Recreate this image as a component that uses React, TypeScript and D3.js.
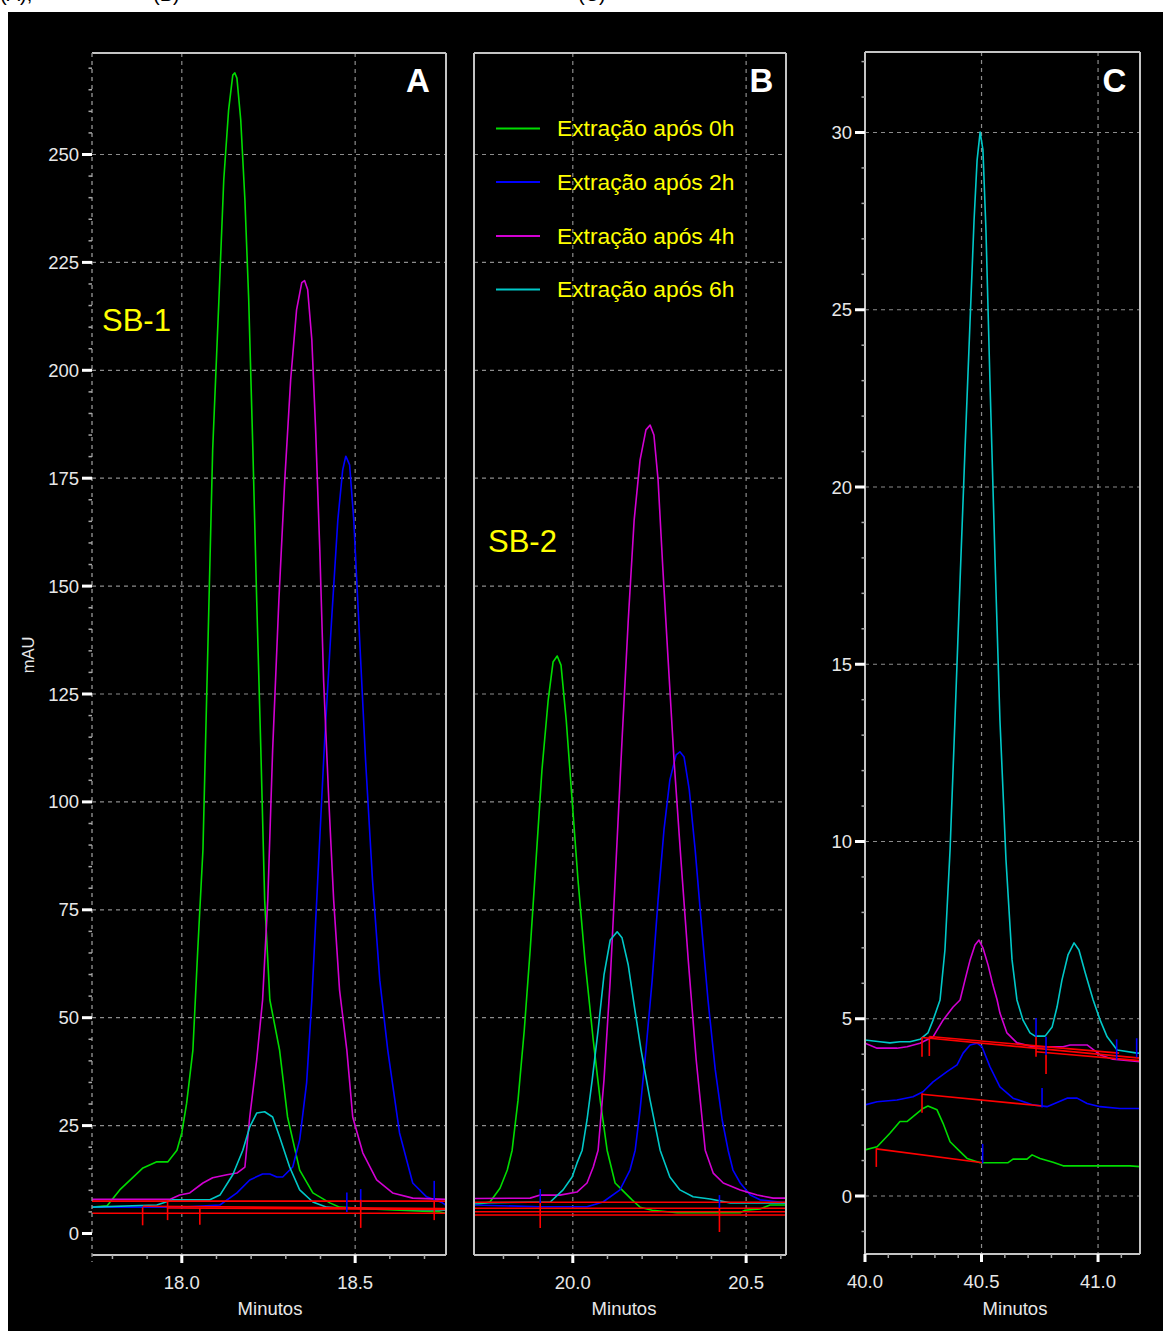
import React from "react";
import * as d3 from "d3";

type Pt = [number, number];
type Seg = [number, number, number, number];
type Mark = [number, number, number];

// ---------- series styling ----------
const seriesNames = ["Extração após 0h", "Extração após 2h", "Extração após 4h", "Extração após 6h"];
const seriesColors = ["#00dc00", "#0000ff", "#d200d2", "#00c8c8"];
const baselineColor = "#ff0000";

// ---------- axis ticks ----------
const yTicksAB = [0, 25, 50, 75, 100, 125, 150, 175, 200, 225, 250];
const yGridAB = [25, 50, 75, 100, 125, 150, 175, 200, 225, 250];
const yTicksC = [0, 5, 10, 15, 20, 25, 30];
const xTicksA = [18.0, 18.5];
const xTicksB = [20.0, 20.5];
const xTicksC = [40.0, 40.5, 41.0];

// ---------- panel A : SB-1 (min, mAU) ----------
const sb1_0h: Pt[] = [
  [17.741, 6.1], [17.784, 6.4], [17.821, 10.1], [17.888, 15.2], [17.928, 16.6], [17.96, 16.6],
  [17.986, 19.3], [18.0, 23.3], [18.014, 30.2], [18.032, 42.5], [18.046, 65.7], [18.061, 88.9],
  [18.075, 135.2], [18.089, 181.5], [18.107, 216.3], [18.121, 244.1], [18.135, 260.3], [18.147, 268.4],
  [18.153, 268.9], [18.159, 267.7], [18.17, 258.0], [18.182, 239.5], [18.193, 216.3], [18.205, 181.5],
  [18.216, 146.8], [18.228, 112.0], [18.239, 77.3], [18.254, 54.1], [18.282, 42.5], [18.305, 27.0],
  [18.34, 14.7], [18.378, 9.4], [18.427, 7.1], [18.455, 6.1], [18.542, 5.7], [18.628, 5.4],
  [18.744, 5.0], [18.761, 4.7],
];
const sb1_2h: Pt[] = [
  [17.741, 6.1], [18.003, 6.1], [18.11, 6.6], [18.159, 9.4], [18.196, 12.4], [18.233, 13.8],
  [18.254, 13.8], [18.274, 13.1], [18.291, 13.1], [18.32, 15.4], [18.34, 21.7], [18.36, 34.9],
  [18.375, 54.1], [18.392, 81.9], [18.412, 114.3], [18.432, 142.1], [18.45, 165.3], [18.464, 176.9],
  [18.473, 180.1], [18.484, 178.1], [18.496, 165.3], [18.513, 137.5], [18.53, 109.7], [18.55, 81.9],
  [18.571, 58.7], [18.594, 42.5], [18.628, 23.3], [18.666, 11.7], [18.706, 8.5], [18.752, 7.1],
  [18.761, 6.6],
];
const sb1_4h: Pt[] = [
  [17.741, 7.9], [17.965, 7.9], [17.994, 8.9], [18.023, 9.4], [18.061, 11.7], [18.089, 12.9],
  [18.13, 13.6], [18.159, 14.0], [18.182, 15.4], [18.196, 27.0], [18.216, 40.2], [18.233, 54.1],
  [18.248, 77.3], [18.262, 112.0], [18.28, 146.8], [18.297, 174.6], [18.314, 197.8], [18.331, 214.0],
  [18.346, 220.3], [18.354, 220.8], [18.363, 218.7], [18.375, 207.1], [18.386, 186.2], [18.398, 158.4],
  [18.409, 128.2], [18.424, 100.4], [18.438, 77.3], [18.455, 56.4], [18.476, 42.5], [18.493, 27.0],
  [18.522, 18.7], [18.562, 12.4], [18.608, 9.4], [18.666, 8.2], [18.761, 7.9],
];
const sb1_6h: Pt[] = [
  [17.741, 6.1], [17.928, 6.6], [17.974, 7.8], [18.081, 7.8], [18.11, 8.9], [18.147, 13.6],
  [18.176, 19.3], [18.196, 24.7], [18.216, 27.9], [18.239, 28.2], [18.262, 27.0], [18.282, 22.4],
  [18.311, 15.4], [18.34, 10.1], [18.378, 7.3], [18.418, 6.1], [18.455, 5.9], [18.761, 5.4],
];
const sb1Baselines: Seg[] = [
  [17.741, 7.5, 18.761, 7.5], [17.888, 6.3, 18.761, 5.8], [17.957, 5.9, 18.761, 5.6], [17.741, 4.7, 18.761, 4.7],
];
const sb1RedMarks: Mark[] = [
  [17.887, 6.1, 1.9], [17.959, 7.7, 3.1], [18.052, 5.9, 2.0], [18.516, 7.8, 1.3], [18.728, 7.7, 3.1],
];
const sb1BlueMarks: Mark[] = [[18.476, 9.5, 5.0], [18.516, 10.3, 6.2], [18.728, 12.2, 7.7]];

// ---------- panel B : SB-2 ----------
const sb2_0h: Pt[] = [
  [19.715, 6.6], [19.761, 7.3], [19.79, 10.5], [19.811, 14.7], [19.825, 19.3], [19.842, 30.9],
  [19.86, 47.1], [19.877, 65.7], [19.894, 86.5], [19.911, 107.4], [19.929, 123.6], [19.943, 132.4],
  [19.955, 133.8], [19.966, 131.7], [19.981, 119.0], [19.998, 100.4], [20.015, 81.9], [20.035, 63.4],
  [20.059, 44.8], [20.079, 30.9], [20.099, 19.3], [20.122, 11.7], [20.142, 10.1], [20.171, 7.8],
  [20.194, 6.1], [20.229, 5.4], [20.301, 4.8], [20.483, 4.8], [20.497, 5.4], [20.54, 5.7],
  [20.569, 6.6], [20.615, 6.6],
];
const sb2_2h: Pt[] = [
  [19.715, 6.6], [19.906, 6.2], [20.041, 6.2], [20.087, 7.3], [20.136, 10.1], [20.165, 14.7],
  [20.18, 19.3], [20.194, 28.6], [20.211, 42.5], [20.229, 58.7], [20.246, 77.3], [20.263, 93.5],
  [20.28, 105.1], [20.298, 110.9], [20.309, 111.6], [20.321, 110.4], [20.336, 102.8], [20.353, 88.9],
  [20.37, 72.6], [20.39, 54.1], [20.411, 37.9], [20.431, 26.3], [20.448, 19.3], [20.462, 14.7],
  [20.483, 11.7], [20.512, 8.9], [20.54, 7.8], [20.615, 7.1],
];
const sb2_4h: Pt[] = [
  [19.715, 8.1], [19.877, 8.2], [19.906, 8.9], [19.963, 8.9], [20.012, 9.6], [20.041, 11.7],
  [20.059, 15.4], [20.073, 19.3], [20.09, 35.6], [20.108, 58.7], [20.125, 86.5], [20.142, 114.3],
  [20.16, 142.1], [20.177, 165.3], [20.194, 179.2], [20.211, 186.2], [20.223, 187.3], [20.234, 185.0],
  [20.246, 174.6], [20.26, 153.7], [20.275, 132.9], [20.292, 109.7], [20.312, 86.5], [20.333, 63.4],
  [20.356, 40.2], [20.382, 19.3], [20.405, 14.0], [20.434, 11.7], [20.483, 10.1], [20.532, 8.9],
  [20.578, 8.2], [20.615, 8.2],
];
const sb2_6h: Pt[] = [
  [19.715, 7.1], [19.935, 7.3], [19.972, 10.1], [19.998, 13.1], [20.012, 16.3], [20.027, 19.3],
  [20.041, 26.3], [20.056, 35.6], [20.073, 47.1], [20.09, 59.9], [20.108, 68.0], [20.128, 69.9],
  [20.142, 68.5], [20.16, 62.2], [20.177, 52.9], [20.197, 42.5], [20.223, 30.9], [20.252, 19.3],
  [20.28, 13.1], [20.309, 10.1], [20.347, 8.5], [20.396, 8.0], [20.454, 7.1], [20.615, 7.1],
];
const sb2Baselines: Seg[] = [
  [19.715, 7.23, 20.615, 7.23], [19.715, 5.84, 20.615, 5.84], [19.715, 5.05, 20.615, 5.05], [19.715, 4.29, 20.615, 4.29],
];
const sb2RedMarks: Mark[] = [[19.906, 7.07, 1.27], [20.423, 5.9, 0.35]];
const sb2BlueMarks: Mark[] = [[19.906, 10.3, 7.07], [20.423, 8.9, 5.9]];

// ---------- panel C : late eluting peaks ----------
const pc_0h: Pt[] = [
  [40.0, 1.3], [40.052, 1.39], [40.107, 1.77], [40.15, 2.1], [40.18, 2.1], [40.206, 2.24],
  [40.249, 2.47], [40.27, 2.54], [40.309, 2.43], [40.335, 2.05], [40.365, 1.53], [40.408, 1.25],
  [40.438, 1.06], [40.494, 0.94], [40.614, 0.94], [40.635, 1.04], [40.695, 1.04], [40.717, 1.16],
  [40.751, 1.06], [40.807, 0.95], [40.85, 0.85], [41.137, 0.85], [41.18, 0.83],
];
const pc_2h: Pt[] = [
  [40.0, 2.57], [40.052, 2.66], [40.137, 2.71], [40.206, 2.8], [40.249, 2.94], [40.292, 3.22],
  [40.352, 3.51], [40.395, 3.7], [40.421, 4.03], [40.451, 4.26], [40.481, 4.31], [40.502, 4.21],
  [40.536, 3.65], [40.579, 3.08], [40.635, 2.76], [40.721, 2.57], [40.781, 2.52], [40.867, 2.76],
  [40.91, 2.76], [40.953, 2.61], [41.009, 2.52], [41.094, 2.47], [41.18, 2.47],
];
const pc_4h: Pt[] = [
  [40.0, 4.31], [40.052, 4.17], [40.137, 4.17], [40.18, 4.21], [40.236, 4.31], [40.292, 4.49],
  [40.335, 4.96], [40.378, 5.33], [40.408, 5.53], [40.429, 6.09], [40.451, 6.66], [40.472, 7.08],
  [40.489, 7.22], [40.506, 7.0], [40.528, 6.52], [40.549, 5.95], [40.567, 5.53], [40.579, 5.16],
  [40.609, 4.6], [40.652, 4.32], [40.721, 4.21], [40.85, 4.21], [40.88, 4.26], [40.953, 4.26],
  [41.009, 3.98], [41.064, 3.86], [41.18, 3.79],
];
const pc_6h: Pt[] = [
  [40.0, 4.4], [40.064, 4.35], [40.107, 4.32], [40.15, 4.35], [40.193, 4.35], [40.236, 4.42],
  [40.27, 4.6], [40.292, 4.96], [40.322, 5.53], [40.343, 6.94], [40.365, 9.76], [40.386, 13.43],
  [40.408, 17.38], [40.429, 21.04], [40.451, 24.71], [40.468, 27.53], [40.481, 29.22], [40.494, 30.01],
  [40.506, 29.51], [40.519, 27.25], [40.536, 23.02], [40.558, 17.94], [40.579, 13.43], [40.605, 9.48],
  [40.631, 6.66], [40.652, 5.53], [40.678, 4.96], [40.708, 4.6], [40.73, 4.51], [40.773, 4.51],
  [40.803, 4.77], [40.824, 5.33], [40.845, 6.09], [40.871, 6.8], [40.897, 7.14], [40.918, 6.94],
  [40.944, 6.32], [40.979, 5.53], [41.009, 4.96], [41.039, 4.49], [41.082, 4.12], [41.168, 4.03],
  [41.18, 4.03],
];
const pcBaselines: Seg[] = [
  [40.0485, 1.33, 40.5047, 0.94], [40.2446, 2.87, 40.7597, 2.54], [40.2446, 4.47, 41.18, 3.89],
  [40.276, 4.5, 41.09, 4.03], [40.734, 4.07, 41.18, 3.82],
];
const pcRedMarks: Mark[] = [
  [40.0485, 1.35, 0.82], [40.2446, 4.48, 3.93], [40.276, 4.5, 3.95], [40.2446, 2.9, 2.35],
  [40.7339, 4.49, 3.93], [40.7768, 3.98, 3.44],
];
const pcBlueMarks: Mark[] = [
  [40.7339, 5.02, 4.49], [40.7768, 4.49, 3.98], [40.7597, 3.05, 2.5], [40.5047, 1.47, 0.92],
  [41.0798, 4.42, 3.85], [41.1657, 4.45, 3.91],
];

const FONT = '"Liberation Sans", Arial, Helvetica, sans-serif';
const GRID = "#8c8c8c";
const FRAME = "#c4c4c4";
const TEXT = "#e8e8e8";

type PanelProps = {
  id: string;
  left: number;
  right: number;
  top: number;
  bottom: number;
  x: d3.ScaleLinear<number, number>;
  y: d3.ScaleLinear<number, number>;
  xMajor: number[];
  xMinorStep: number;
  yTicks?: number[];
  yMinorStep?: number;
  yGrid: number[];
  leftDashed?: boolean;
  curves: Pt[][];
  baselines: Seg[];
  redMarks: Mark[];
  blueMarks: Mark[];
  letter: string;
  letterX: number;
};

function Panel(p: PanelProps) {
  const { x, y } = p;
  const line = d3
    .line<Pt>()
    .x((d) => x(d[0]))
    .y((d) => y(d[1]));
  const [d0, d1] = x.domain();
  const minors = d3
    .range(Math.ceil(d0 / p.xMinorStep - 1e-6) * p.xMinorStep, d1 + 1e-9, p.xMinorStep)
    .filter((t) => !p.xMajor.some((m) => Math.abs(m - t) < 1e-6));
  const [yd0, yd1] = y.domain().slice().sort((a, b) => a - b);
  const yLo = y.invert(p.bottom);
  const yHi = y.invert(p.top);
  const yMinors =
    p.yTicks && p.yMinorStep
      ? d3
          .range(Math.ceil(yLo / p.yMinorStep) * p.yMinorStep, yHi, p.yMinorStep)
          .filter((v) => !p.yTicks!.includes(v))
      : [];
  void yd0;
  void yd1;
  const fmt = d3.format(".1f");
  return (
    <g>
      <defs>
        <clipPath id={`clip-${p.id}`}>
          <rect x={p.left} y={p.top} width={p.right - p.left} height={p.bottom - p.top} />
        </clipPath>
      </defs>
      {/* grid */}
      {p.yGrid.map((v) => (
        <line key={`gy${v}`} x1={p.left} x2={p.right} y1={y(v)} y2={y(v)} stroke={GRID} strokeWidth={1.2} strokeDasharray="4,4" />
      ))}
      {p.xMajor.map((t) => (
        <line key={`gx${t}`} x1={x(t)} x2={x(t)} y1={p.top} y2={p.bottom} stroke={GRID} strokeWidth={1.2} strokeDasharray="4,4" />
      ))}
      {/* chromatograms */}
      <g clipPath={`url(#clip-${p.id})`}>
        {p.curves.map((c, i) => (
          <path key={i} d={line(c) || ""} fill="none" stroke={seriesColors[i]} strokeWidth={1.6} strokeLinejoin="round" />
        ))}
        {p.baselines.map((s, i) => (
          <line key={`b${i}`} x1={x(s[0])} y1={y(s[1])} x2={x(s[2])} y2={y(s[3])} stroke={baselineColor} strokeWidth={1.6} />
        ))}
        {p.blueMarks.map((m, i) => (
          <line key={`bm${i}`} x1={x(m[0])} x2={x(m[0])} y1={y(m[1])} y2={y(m[2])} stroke="#0000ff" strokeWidth={1.6} />
        ))}
        {p.redMarks.map((m, i) => (
          <line key={`rm${i}`} x1={x(m[0])} x2={x(m[0])} y1={y(m[1])} y2={y(m[2])} stroke={baselineColor} strokeWidth={1.6} />
        ))}
      </g>
      {/* frame */}
      <line x1={p.left} x2={p.right} y1={p.top} y2={p.top} stroke={FRAME} strokeWidth={2} />
      <line x1={p.right} x2={p.right} y1={p.top} y2={p.bottom} stroke={FRAME} strokeWidth={2} />
      <line x1={p.left} x2={p.right} y1={p.bottom} y2={p.bottom} stroke={FRAME} strokeWidth={2} />
      {p.leftDashed ? (
        <line x1={p.left} x2={p.left} y1={p.top} y2={p.bottom + 7} stroke={GRID} strokeWidth={1.4} strokeDasharray="4,4" />
      ) : (
        <line x1={p.left} x2={p.left} y1={p.top} y2={p.bottom} stroke={FRAME} strokeWidth={2} />
      )}
      {/* x ticks */}
      {minors.map((t) => (
        <line key={`mx${t}`} x1={x(t)} x2={x(t)} y1={p.bottom} y2={p.bottom + 4} stroke="#a8a8a8" strokeWidth={1.5} />
      ))}
      {p.xMajor.map((t) => (
        <g key={`Mx${t}`}>
          <line x1={x(t)} x2={x(t)} y1={p.bottom} y2={p.bottom + 8} stroke="#ffffff" strokeWidth={3} />
          <text x={x(t)} y={p.bottom + 34} textAnchor="middle" fill={TEXT} fontSize={18.5} fontFamily={FONT}>
            {fmt(t)}
          </text>
        </g>
      ))}
      {/* y ticks */}
      {yMinors.map((v) => (
        <line key={`my${v}`} x1={p.left - 3.5} x2={p.left} y1={y(v)} y2={y(v)} stroke="#a8a8a8" strokeWidth={1.5} />
      ))}
      {(p.yTicks || []).map((v) => (
        <g key={`My${v}`}>
          <line x1={p.left - 10} x2={p.left} y1={y(v)} y2={y(v)} stroke="#ffffff" strokeWidth={3} />
          <text x={p.left - 13} y={y(v) + 6.5} textAnchor="end" fill={TEXT} fontSize={18.5} fontFamily={FONT}>
            {v}
          </text>
        </g>
      ))}
      <text x={p.letterX} y={92} textAnchor="middle" fill="#ffffff" fontSize={33} fontWeight="bold" fontFamily={FONT}>
        {p.letter}
      </text>
    </g>
  );
}

export default function App() {
  const yAB = d3.scaleLinear().domain([0, 250]).range([1233.5, 154.5]);
  const yC = d3.scaleLinear().domain([0, 30]).range([1196, 132.5]);
  const xA = d3.scaleLinear().domain([17.741, 18.762]).range([92, 446]);
  const xB = d3.scaleLinear().domain([19.715, 20.615]).range([474, 786]);
  const xC = d3.scaleLinear().domain([40, 41.18]).range([865, 1140]);

  const legendY = [128.5, 182, 236, 289.5];

  return (
    <svg
      width={1163}
      height={1331}
      viewBox="0 0 1163 1331"
      style={{ position: "absolute", left: 0, top: 0, background: "#ffffff" }}
    >
      {/* caption line above the figure, mostly cut off */}
      <g fontFamily={FONT} fontSize={20} fill="#000000">
        <text x={0} y={1}>(A),</text>
        <text x={153} y={1}>(B)</text>
        <text x={578} y={1}>(C)</text>
      </g>
      <rect x={8} y={12} width={1155} height={1319} fill="#000000" />

      <Panel
        id="A"
        left={92}
        right={446}
        top={53}
        bottom={1255}
        x={xA}
        y={yAB}
        xMajor={xTicksA}
        xMinorStep={0.1}
        yTicks={yTicksAB}
        yMinorStep={5}
        yGrid={yGridAB}
        leftDashed
        curves={[sb1_0h, sb1_2h, sb1_4h, sb1_6h]}
        baselines={sb1Baselines}
        redMarks={sb1RedMarks}
        blueMarks={sb1BlueMarks}
        letter="A"
        letterX={418}
      />
      <Panel
        id="B"
        left={474}
        right={786}
        top={53}
        bottom={1255}
        x={xB}
        y={yAB}
        xMajor={xTicksB}
        xMinorStep={0.1}
        yGrid={yGridAB}
        curves={[sb2_0h, sb2_2h, sb2_4h, sb2_6h]}
        baselines={sb2Baselines}
        redMarks={sb2RedMarks}
        blueMarks={sb2BlueMarks}
        letter="B"
        letterX={761.5}
      />
      <Panel
        id="C"
        left={865}
        right={1140}
        top={52}
        bottom={1254}
        x={xC}
        y={yC}
        xMajor={xTicksC}
        xMinorStep={0.1}
        yTicks={yTicksC}
        yMinorStep={1}
        yGrid={yTicksC}
        curves={[pc_0h, pc_2h, pc_4h, pc_6h]}
        baselines={pcBaselines}
        redMarks={pcRedMarks}
        blueMarks={pcBlueMarks}
        letter="C"
        letterX={1114.5}
      />

      {/* legend */}
      <g fontFamily={FONT} fontSize={22.8}>
        {seriesNames.map((n, i) => (
          <g key={n}>
            <line x1={496} x2={540} y1={legendY[i]} y2={legendY[i]} stroke={seriesColors[i]} strokeWidth={1.8} />
            <text x={557} y={legendY[i] + 7.5} fill="#ffff00">
              {n}
            </text>
          </g>
        ))}
      </g>

      {/* compound labels */}
      <text x={102} y={331} fill="#ffff00" fontSize={31} fontFamily={FONT}>SB-1</text>
      <text x={488} y={552} fill="#ffff00" fontSize={31} fontFamily={FONT}>SB-2</text>

      {/* axis titles */}
      <text
        transform="translate(34,655) rotate(-90)"
        textAnchor="middle"
        fill={TEXT}
        fontSize={16.5}
        fontFamily={FONT}
      >
        mAU
      </text>
      <g fill={TEXT} fontSize={18.5} fontFamily={FONT} textAnchor="middle">
        <text x={270} y={1315}>Minutos</text>
        <text x={624} y={1315}>Minutos</text>
        <text x={1015} y={1315}>Minutos</text>
      </g>
    </svg>
  );
}
